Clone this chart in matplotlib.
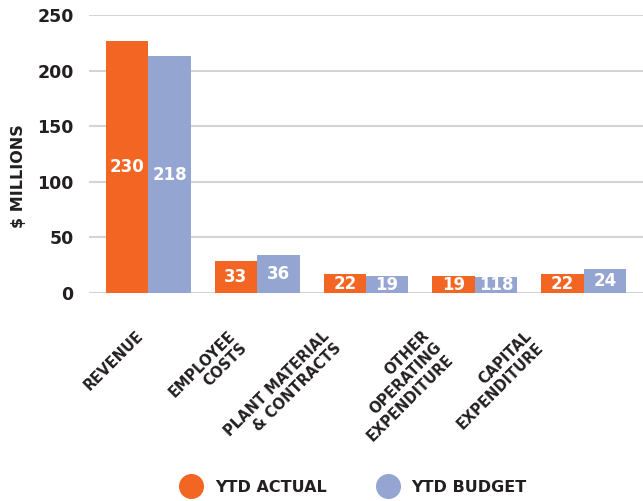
import numpy as np
import matplotlib

matplotlib.use("Agg")
import matplotlib.pyplot as plt
from matplotlib.lines import Line2D

categories = ["REVENUE", "EMPLOYEE\nCOSTS", "PLANT MATERIAL\n& CONTRACTS",
              "OTHER\nOPERATING\nEXPENDITURE", "CAPITAL\nEXPENDITURE"]
actual = [227, 29, 17, 15, 17]
budget = [213, 34, 15, 14, 22]
actual_labels = ["230", "33", "22", "19", "22"]
budget_labels = ["218", "36", "19", "118", "24"]
yticks = [0, 50, 100, 150, 200, 250]

# category labels drift left the further right they sit (pixels)
label_shift = [-13, -30, -44, -53, -60]

ORANGE = "#f26522"
BLUE = "#94a5d2"
DARK = "#231f20"
GRID = "#d4d4d4"

plt.rcParams["font.family"] = ["DejaVu Sans"]

fig = plt.figure(figsize=(6.43, 5.01), dpi=100, facecolor="white")
ax = fig.add_axes([0.1384, 0.4152, 0.8616, 0.5548])

x = np.arange(len(categories))
w = 0.39
b1 = ax.bar(x - w / 2, actual, w, color=ORANGE, zorder=3)
b2 = ax.bar(x + w / 2, budget, w, color=BLUE, zorder=3)

for bars, labels in ((b1, actual_labels), (b2, budget_labels)):
    for rect, lab in zip(bars, labels):
        ax.text(rect.get_x() + rect.get_width() / 2, rect.get_height() / 2, lab,
                ha="center", va="center", color="white", fontsize=12,
                fontweight="bold", zorder=4, clip_on=True)

ax.set_xlim(-0.546, 4.546)
ax.set_ylim(0, 250)
ax.set_yticks(yticks)
ax.set_yticklabels([str(v) for v in yticks], fontsize=12.5, fontweight="bold", color=DARK)
ax.tick_params(axis="y", length=0, pad=11)
ax.tick_params(axis="x", length=0)
ax.set_xticks(x)
ax.set_xticklabels([])
ax.grid(axis="y", color=GRID, lw=1.5, zorder=0)
for s in ax.spines.values():
    s.set_visible(False)
ax.axhline(0, color=GRID, lw=1.5, zorder=2)

ax.set_ylabel("$ MILLIONS", fontsize=11.5, fontweight="bold", color=DARK)
ax.yaxis.set_label_coords(-0.113, 0.42)

for xi, cat, dx in zip(x, categories, label_shift):
    ax.annotate(cat, xy=(xi, 0), xycoords="data", xytext=(dx, -35),
                textcoords="offset pixels", rotation=45, rotation_mode="anchor",
                ha="right", va="top", multialignment="right",
                fontsize=10.5, fontweight="bold", color=DARK, linespacing=1.15)

handles = [Line2D([], [], marker="o", ls="", markersize=17, color=ORANGE),
           Line2D([], [], marker="o", ls="", markersize=17, color=BLUE)]
leg = fig.legend(handles, ["YTD ACTUAL", "YTD BUDGET"], loc="center",
                 bbox_to_anchor=(0.546, 0.027), ncol=2, frameon=False,
                 prop={"size": 11.5, "weight": "bold"}, handletextpad=0.5,
                 columnspacing=2.8)
for t in leg.get_texts():
    t.set_color(DARK)

fig.savefig("out.png", facecolor="white")
